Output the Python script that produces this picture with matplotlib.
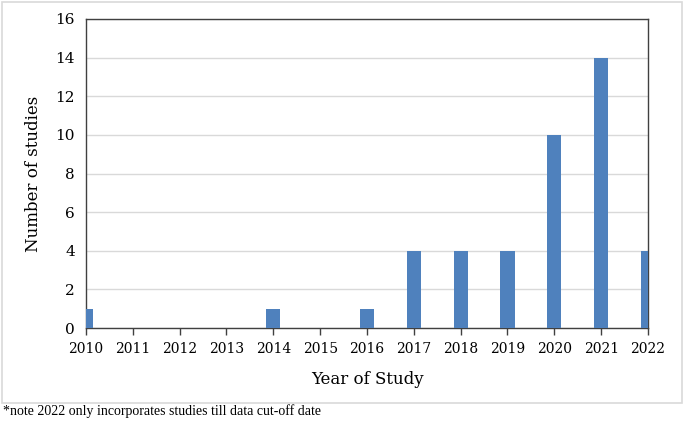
import matplotlib.pyplot as plt
from matplotlib.patches import Rectangle

years = [2010, 2011, 2012, 2013, 2014, 2015, 2016, 2017, 2018, 2019, 2020, 2021, 2022]
studies = [1, 0, 0, 0, 1, 0, 1, 4, 4, 4, 10, 14, 4]
yticks = [0, 2, 4, 6, 8, 10, 12, 14, 16]

fig = plt.figure(figsize=(6.85, 4.21), dpi=100)
W, H = 685, 421

# light grey frame around the chart area
fig.patches.append(Rectangle((2 / W, 1 - 403 / H), 680 / W, 401 / H,
                             transform=fig.transFigure, fill=False,
                             edgecolor='#d9d9d9', linewidth=1.2))

ax = fig.add_axes([86 / W, 1 - 328 / H, 562 / W, 309 / H])
ax.bar(years, studies, width=0.3, color='#4f81bd', zorder=3)
ax.set_xlim(2010, 2022)
ax.set_ylim(0, 16)
ax.set_xticks(years)
ax.set_xticklabels([str(y) for y in years], family='DejaVu Serif', fontsize=10)
ax.set_yticks(yticks)
ax.set_yticklabels([str(v) for v in yticks], family='DejaVu Serif', fontsize=11)
ax.grid(axis='y', color='#d9d9d9', linewidth=1, zorder=0)
ax.tick_params(axis='y', length=0, pad=8)
ax.tick_params(axis='x', length=5, width=1, color='#404040', direction='out', pad=5)
for s in ax.spines.values():
    s.set_color('#404040')
    s.set_linewidth(1)

ax.set_ylabel('Number of studies', family='DejaVu Serif', fontsize=12, labelpad=10)
ax.set_xlabel('Year of Study', family='DejaVu Serif', fontsize=12, labelpad=11)

fig.text(3 / W, 1 - 411 / H, '*note 2022 only incorporates studies till data cut-off date',
         family='Liberation Serif', fontsize=10, va='center', ha='left')

fig.savefig('out.png', dpi=100)
